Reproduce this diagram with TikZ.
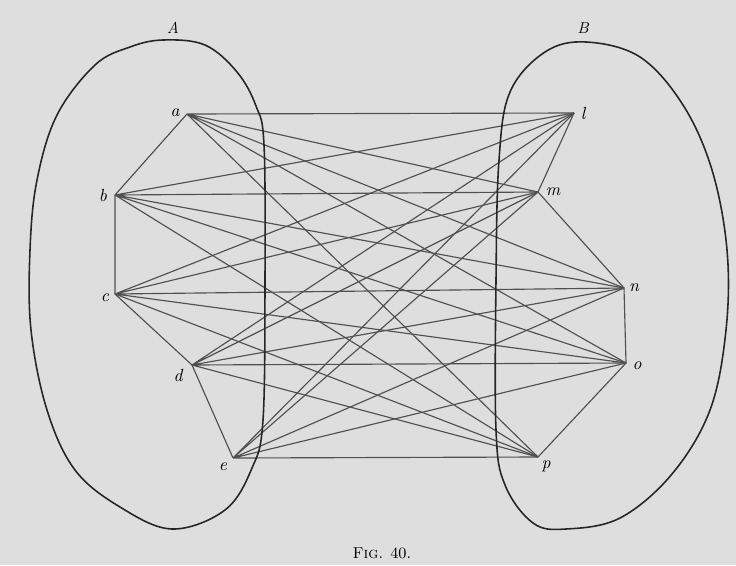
\documentclass[tikz,border=0pt]{standalone}
\usepackage{tikz}
\usetikzlibrary{positioning, calc}
\usepackage{xcolor}
\definecolor{paper}{RGB}{222,222,222}
\definecolor{inkline}{RGB}{80,80,80}

\begin{document}
\begin{tikzpicture}[
    x=0.02cm, y=-0.02cm,
    edge/.style={draw=inkline, line width=0.65pt},
    blob/.style={draw=black!85, line width=0.9pt},
    lbl/.style={inner sep=0pt, font=\itshape},
    setname/.style={inner sep=0pt, font=\itshape\small},
    caption/.style={inner sep=0pt, font=\small}
]

    % Paper
    \fill[paper] (0,0) rectangle (736,565);
    \useasboundingbox (0,0) rectangle (736,565);

    % Points of set A
    \coordinate (a) at (187,114);
    \coordinate (b) at (115,195);
    \coordinate (c) at (115,294);
    \coordinate (d) at (192,365);
    \coordinate (e) at (233,458);

    % Points of set B
    \coordinate (l) at (574,113);
    \coordinate (m) at (538,192);
    \coordinate (n) at (624,288);
    \coordinate (o) at (626,363);
    \coordinate (p) at (538,457);

    % Point labels
    \node[lbl] (alabel) at (175,113) {a};
    \node[lbl] (blabel) at (103,195) {b};
    \node[lbl] (clabel) at (105,298) {c};
    \node[lbl] (dlabel) at (178,375) {d};
    \node[lbl] (elabel) at (223,467) {e};
    \node[lbl] (llabel) at (583,113) {l};
    \node[lbl] (mlabel) at (553,192) {m};
    \node[lbl] (nlabel) at (634,288) {n};
    \node[lbl] (olabel) at (637,366) {o};
    \node[lbl] (plabel) at (546,466) {p};

    % Sides within each set
    \draw[edge] (a) -- (b) -- (c) -- (d) -- (e);
    \draw[edge] (l) -- (m) -- (n) -- (o) -- (p);

    % Every point of A joined to every point of B
    \draw[edge] (a) -- (l) (a) -- (m) (a) -- (n) (a) -- (o) (a) -- (p);
    \draw[edge] (b) -- (l) (b) -- (m) (b) -- (n) (b) -- (o) (b) -- (p);
    \draw[edge] (c) -- (l) (c) -- (m) (c) -- (n) (c) -- (o) (c) -- (p);
    \draw[edge] (d) -- (l) (d) -- (m) (d) -- (n) (d) -- (o) (d) -- (p);
    \draw[edge] (e) -- (l) (e) -- (m) (e) -- (n) (e) -- (o) (e) -- (p);

    % Region A
    \draw[blob] plot[smooth cycle, tension=0.6] coordinates {
        (163,40) (205,45) (237,72) (256,106) (264,145) (265,280)
        (263,420) (252,468) (225,510) (172,529) (120,507) (75,470)
        (47,410) (31,330) (30,250) (37,180) (57,115) (95,65) (130,47)};
    \node[setname] (Alabel) at (173,28) {A};

    % Region B
    \draw[blob] plot[smooth cycle, tension=0.6] coordinates {
        (586,42) (640,57) (683,105) (712,170) (727,250) (726,330)
        (710,410) (672,474) (620,518) (566,529) (533,523)
        (505,485) (496,430) (496,280) (499,160) (510,92) (545,52)};
    \node[setname] (Blabel) at (583,28) {B};

    % Caption
    \node[caption] (figcap) at (382,553) {F\textsc{ig}. 40.};

\end{tikzpicture}
\end{document}
